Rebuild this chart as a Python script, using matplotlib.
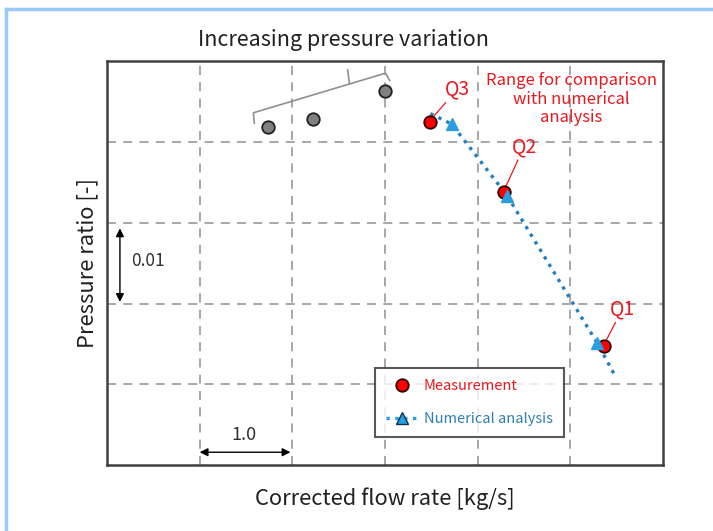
import matplotlib.pyplot as plt
from matplotlib.lines import Line2D

plt.rcParams['font.family'] = ['Noto Sans CJK JP', 'DejaVu Sans']

# earlier measurements (gray, outside comparison range)
gray_x = [1.74, 2.22, 3.00]
gray_y = [0.0419, 0.0428, 0.0463]

# measurement points Q3, Q2, Q1
meas_x = [3.49, 4.28, 5.36]
meas_y = [0.0424, 0.0338, 0.0148]
meas_labels = ['Q3', 'Q2', 'Q1']

# numerical analysis curve (triangles at index 1, 2, 3)
num_x = [3.49, 3.72, 4.32, 5.29, 5.48]
num_y = [0.0435, 0.0422, 0.0333, 0.0151, 0.0111]

fig = plt.figure(figsize=(7.13, 5.31), dpi=100)
ax = fig.add_axes([0.150, 0.124, 0.780, 0.761])

ax.set_xlim(0, 6)
ax.set_ylim(0, 0.05)
ax.set_xticks([1, 2, 3, 4, 5])
ax.set_yticks([0.01, 0.02, 0.03, 0.04])
ax.tick_params(length=0, labelbottom=False, labelleft=False)
ax.grid(True, color='#a0a0a0', linestyle=(0, (5, 4)), linewidth=1.3)
for s in ax.spines.values():
    s.set_color('#404040')
    s.set_linewidth(1.8)

blue = '#1f7fc4'
tri_blue = '#2a9ee0'
red = '#e8191e'

ax.plot(num_x, num_y, linestyle=':', color=blue, linewidth=2.4, zorder=3)
ax.plot(num_x[1:4], num_y[1:4], linestyle='none', marker='^', markersize=8,
        color=tri_blue, zorder=5)
ax.plot(meas_x, meas_y, linestyle='none', marker='o', markersize=9,
        markerfacecolor='#ff0000', markeredgecolor='#300000', markeredgewidth=1.3, zorder=4)
ax.plot(gray_x, gray_y, linestyle='none', marker='o', markersize=9,
        markerfacecolor='#808080', markeredgecolor='#202020', markeredgewidth=1.3, zorder=4)

# Q labels with leader lines (text offset, leader end offset)
offsets = [(0.29, 0.0041), (0.22, 0.0056), (0.20, 0.0045)]
ends = [(0.03, 0.0007), (0.02, 0.0006), (0.02, 0.0005)]
for x, y, lab, (dx, dy), (ex, ey) in zip(meas_x, meas_y, meas_labels, offsets, ends):
    ax.annotate(lab, xy=(x + ex, y + ey), xytext=(x + dx, y + dy),
                color=red, fontsize=14, ha='center', va='center',
                arrowprops=dict(arrowstyle='-', color=red, lw=0.9, shrinkA=0, shrinkB=0))

ax.text(5.01, 0.0453, 'Range for comparison\nwith numerical\nanalysis', color=red,
        fontsize=12, ha='center', va='center', linespacing=1.15)

# bracket over gray points
bx = [1.59, 1.58, 3.005, 3.05]
by = [0.0423, 0.0436, 0.0485, 0.0476]
ax.plot(bx, by, color='#909090', linewidth=1.2)
ax.plot([2.617, 2.596], [0.0472, 0.0489], color='#909090', linewidth=1.2)

# scale arrows
ax.annotate('', xy=(0.14, 0.0293), xytext=(0.14, 0.0202),
            arrowprops=dict(arrowstyle='<|-|>', color='black', lw=1.0, mutation_scale=12,
                            shrinkA=0, shrinkB=0))
ax.text(0.26, 0.0253, '0.01', fontsize=12.5, ha='left', va='center', color='#303030')
ax.annotate('', xy=(1.0, 0.0016), xytext=(1.98, 0.0016),
            arrowprops=dict(arrowstyle='<|-|>', color='black', lw=1.0, mutation_scale=12,
                            shrinkA=0, shrinkB=0))
ax.text(1.48, 0.0037, '1.0', fontsize=13, ha='center', va='center', color='#303030')

# legend
handles = [
    Line2D([], [], linestyle='none', marker='o', markersize=9, markerfacecolor='#ff0000',
           markeredgecolor='#300000', markeredgewidth=1.3),
    Line2D([], [], linestyle=':', color=tri_blue, linewidth=2.4, marker='^', markersize=9,
           markerfacecolor=tri_blue, markeredgecolor='#103050', markeredgewidth=1.0),
]
leg = ax.legend(handles, ['Measurement', 'Numerical analysis'], loc='lower left',
                bbox_to_anchor=(0.482, 0.069), borderaxespad=0, fontsize=10.5, frameon=True,
                fancybox=False, edgecolor='#303030', handlelength=2.2, handletextpad=0.4,
                borderpad=0.75, labelspacing=1.35)
leg.get_frame().set_linewidth(1.5)
leg.get_texts()[0].set_color(red)
leg.get_texts()[1].set_color('#2f7fab')

ax.set_xlabel('Corrected flow rate [kg/s]', fontsize=15.8, labelpad=16, color='#202020')
ax.set_ylabel('Pressure ratio [-]', fontsize=15.8, labelpad=6, color='#202020')
fig.text(343 / 713, 1 - 40 / 531, 'Increasing pressure variation', fontsize=15.5,
         ha='center', va='center', color='#202020')

# light blue page border (top and left)
fig.add_artist(Line2D([6 / 713, 1], [1 - 9 / 531, 1 - 9 / 531], color='#9ccaf8', lw=2.5))
fig.add_artist(Line2D([6 / 713, 6 / 713], [0, 1 - 9 / 531], color='#9ccaf8', lw=2.5))

fig.savefig('out.png', dpi=100)
